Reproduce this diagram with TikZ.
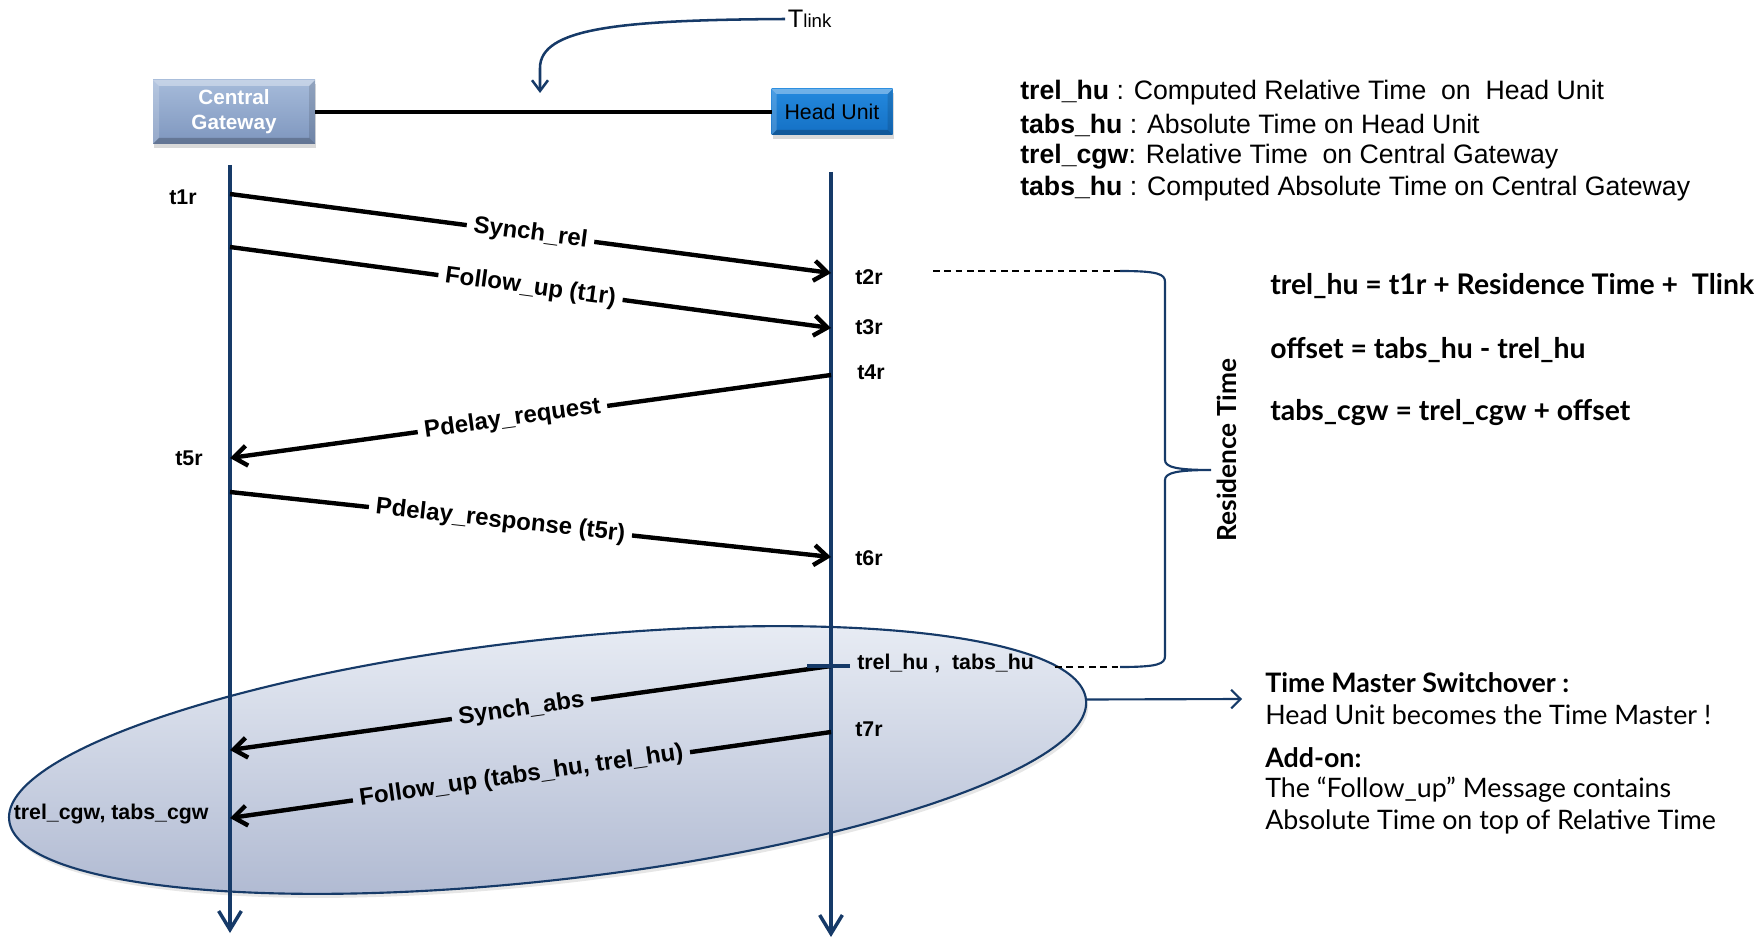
\documentclass[tikz,border=0pt]{standalone}
\usepackage{fontspec}
\setmainfont{Liberation Sans}
\newfontfamily\humsans{Lato}
\usetikzlibrary{arrows.meta,shapes.geometric,calc,shadows}

\definecolor{navy}{HTML}{163A68}
\definecolor{cgtop}{HTML}{A6BBDA}
\definecolor{cgbot}{HTML}{7E96BE}
\definecolor{hutop}{HTML}{2489DE}
\definecolor{hubot}{HTML}{1470C4}
\definecolor{elltop}{HTML}{EBEFF6}
\definecolor{ellbot}{HTML}{ADB7D0}

% bevelled edges of a box node: #1 node name, #2 bevel depth
\newcommand\boxbevel[2]{%
  \fill[white,opacity=.35] (#1.north west) -- (#1.north east) -- ($(#1.north east)+(-#2,#2)$) -- ($(#1.north west)+(#2,#2)$) -- cycle;
  \fill[white,opacity=.18] (#1.north west) -- ($(#1.north west)+(#2,#2)$) -- ($(#1.south west)+(#2,-#2)$) -- (#1.south west) -- cycle;
  \fill[black,opacity=.22] (#1.south west) -- (#1.south east) -- ($(#1.south east)+(-#2,-#2)$) -- ($(#1.south west)+(#2,-#2)$) -- cycle;
  \fill[black,opacity=.12] (#1.north east) -- (#1.south east) -- ($(#1.south east)+(-#2,-#2)$) -- ($(#1.north east)+(-#2,#2)$) -- cycle;
}

\begin{document}
\begin{tikzpicture}[x=0.75pt,y=-0.75pt,
  boxshadow/.style={drop shadow={shadow xshift=1pt,shadow yshift=-3pt,opacity=.3}},
  cgbox/.style={rectangle, outer sep=0pt, minimum width=121.5pt, minimum height=48pt,
    top color=cgtop, bottom color=cgbot, boxshadow, align=center, text=white,
    font=\fontsize{15.5}{18.75}\selectfont\bfseries},
  hubox/.style={rectangle, outer sep=0pt, minimum width=90.75pt, minimum height=34.5pt,
    top color=hutop, bottom color=hubot, boxshadow, text=black,
    font=\fontsize{16}{18}\selectfont},
  lifeline/.style={draw=navy, line width=2.6pt, -{Straight Barb[length=14pt,width=17pt]}},
  msg/.style={draw=black, line width=3.3pt},
  tip/.style={-{Straight Barb[length=10pt,width=15pt]}},
  msglabel/.style={font=\fontsize{18}{20}\selectfont\bfseries, inner xsep=5pt, inner ysep=2pt, sloped},
  tlabel/.style={font=\fontsize{16}{18}\selectfont\bfseries, inner sep=0pt},
  legend/.style={anchor=west, inner sep=0pt, font=\fontsize{20}{22}\selectfont},
  eqn/.style={anchor=west, inner sep=0pt, font=\humsans\bfseries\fontsize{21.3}{24}\selectfont},
  note/.style={anchor=west, inner sep=0pt, font=\humsans\fontsize{20.1}{24}\selectfont},
  notehead/.style={note, font=\humsans\bfseries\fontsize{20.1}{24}\selectfont},
  navyline/.style={draw=navy, line width=1.6pt},
  guide/.style={draw=black, line width=0.9pt, dash pattern=on 5pt off 3.5pt}
]
\useasboundingbox (0,0) rectangle (1763,941);

% the switchover region
\node[ellipse, draw=navy, line width=1.6pt, minimum width=812.7pt, minimum height=180.3pt,
  inner sep=0pt, rotate=6.4, top color=elltop, bottom color=ellbot,
  drop shadow={shadow xshift=1.5pt,shadow yshift=-3pt,opacity=.2}] (ell) at (547.6,760) {};

% the two devices and their link
\node[cgbox] (cg) at (234,112) {Central\\Gateway};
\node[hubox] (hu) at (832,112) {Head Unit};
\boxbevel{cg}{6}
\boxbevel{hu}{5}
\draw[black, line width=3pt] (cg.east) -- (hu.west);

% link delay annotation
\node[anchor=west, inner sep=2pt] (tl) at (785,19) {\fontsize{19}{20}\selectfont T\fontsize{14}{16}\selectfont link};
\coordinate (tltip) at (540,93);
\draw[navy, line width=1.9pt, -{Straight Barb[length=8pt,width=12pt]}]
  (tl.west) .. controls (620,20) and (540,28) .. (540,68) -- (tltip);

% lifelines
\coordinate (cgtop) at (230,165);
\coordinate (cgend) at (230,933);
\coordinate (hutopl) at (831,172);
\coordinate (huend) at (831,937);
\draw[lifeline] (cgtop) -- (cgend);
\draw[lifeline] (hutopl) -- (huend);

% message end points
\coordinate (a1) at (230,194);  \coordinate (b1) at (831,273);
\coordinate (a2) at (230,247);  \coordinate (b2) at (831,328);
\coordinate (b3) at (831,375);  \coordinate (a3) at (230,458);
\coordinate (a4) at (230,492);  \coordinate (b4) at (831,557);
\coordinate (b5) at (831,666);  \coordinate (a5) at (230,750);
\coordinate (b6) at (831,732);  \coordinate (a6) at (230,818);

% messages, each broken by its label
\path (a1) -- (b1) node[msglabel, pos=.5] (m1) {Synch\_rel};
\draw[msg] (a1) -- (m1);
\draw[msg, tip] (m1) -- (b1);

\path (a2) -- (b2) node[msglabel, pos=.5] (m2) {Follow\_up (t1r)};
\draw[msg] (a2) -- (m2);
\draw[msg, tip] (m2) -- (b2);

\path (b3) -- (a3) node[msglabel, pos=.53] (m3) {Pdelay\_request};
\draw[msg] (b3) -- (m3);
\draw[msg, tip] (m3) -- (a3);

\path (a4) -- (b4) node[msglabel, pos=.45] (m4) {Pdelay\_response (t5r)};
\draw[msg] (a4) -- (m4);
\draw[msg, tip] (m4) -- (b4);

\path (b5) -- (a5) node[msglabel, pos=.515] (m5) {Synch\_abs};
\draw[msg] (b5) -- (m5);
\draw[msg, tip] (m5) -- (a5);

\path (b6) -- (a6) node[msglabel, pos=.515] (m6) {Follow\_up (tabs\_hu, trel\_hu)};
\draw[msg] (b6) -- (m6);
\draw[msg, tip] (m6) -- (a6);

% time stamp marker on the head unit
\coordinate (tk1) at (807,666);
\coordinate (tk2) at (850,666);
\draw[navy, line width=3.4pt] (tk1) -- (tk2);

% time stamps
\node[tlabel] (t1) at (183,197) {t1r};
\node[tlabel] (t2) at (869,277) {t2r};
\node[tlabel] (t3) at (869,327) {t3r};
\node[tlabel] (t4) at (871,372) {t4r};
\node[tlabel] (t5) at (189,458) {t5r};
\node[tlabel] (t6) at (869,558) {t6r};
\node[tlabel, anchor=west] (thu) at (857,663) {trel\_hu ,\ \ tabs\_hu};
\node[tlabel] (t7) at (869,729) {t7r};
\node[tlabel, anchor=west] (tcgw) at (13.5,814) {trel\_cgw, tabs\_cgw};

% residence time brace
\coordinate (rtop) at (933,271);
\coordinate (btop) at (1120,271);
\coordinate (rbot) at (1055,667);
\coordinate (bbot) at (1120,667);
\coordinate (btip) at (1211,470);
\draw[guide] (rtop) -- (btop);
\draw[guide] (rbot) -- (bbot);
\draw[navyline]
  (btop) .. controls (1158,271) and (1165,274) .. (1165,282) -- (1165,460)
  .. controls (1165,467) and (1176,470) .. (btip)
  .. controls (1176,470) and (1165,473) .. (1165,480) -- (1165,656)
  .. controls (1165,664) and (1158,667) .. (bbot);
\node[rotate=90, inner sep=0pt, font=\humsans\bfseries\fontsize{19.7}{21}\selectfont] (rt) at (1227,450) {Residence Time};

% legend
\node[legend] (lg1) at (1020,93) {\textbf{trel\_hu} : Computed Relative Time\ \ on\ \ Head Unit};
\node[legend] (lg2) at (1020,125) {\textbf{tabs\_hu} : Absolute Time on Head Unit};
\node[legend] (lg3) at (1020,157) {\textbf{trel\_cgw}: Relative Time\ \ on Central Gateway};
\node[legend] (lg4) at (1020,189) {\textbf{tabs\_hu} : Computed Absolute Time on Central Gateway};

% equations
\node[eqn] (eq1) at (1270,286) {trel\_hu = t1r + Residence Time +\ \ Tlink};
\node[eqn] (eq2) at (1270,350) {offset = tabs\_hu - trel\_hu};
\node[eqn] (eq3) at (1270,413) {tabs\_cgw = trel\_cgw + offset};

% switchover notes
\coordinate (swend) at (1242,699);
\draw[navyline, -{Straight Barb[length=7pt,width=14pt]}] (ell.east) -- (swend);
\node[notehead] (sw1) at (1265,683) {Time Master Switchover :};
\node[note] (sw2) at (1265,715) {Head Unit becomes the Time Master !};
\node[notehead] (sw3) at (1265,758) {Add-on:};
\node[note] (sw4) at (1265,790) {The “Follow\_up” Message contains};
\node[note] (sw5) at (1265,822) {Absolute Time on top of Relative Time};
\end{tikzpicture}
\end{document}
